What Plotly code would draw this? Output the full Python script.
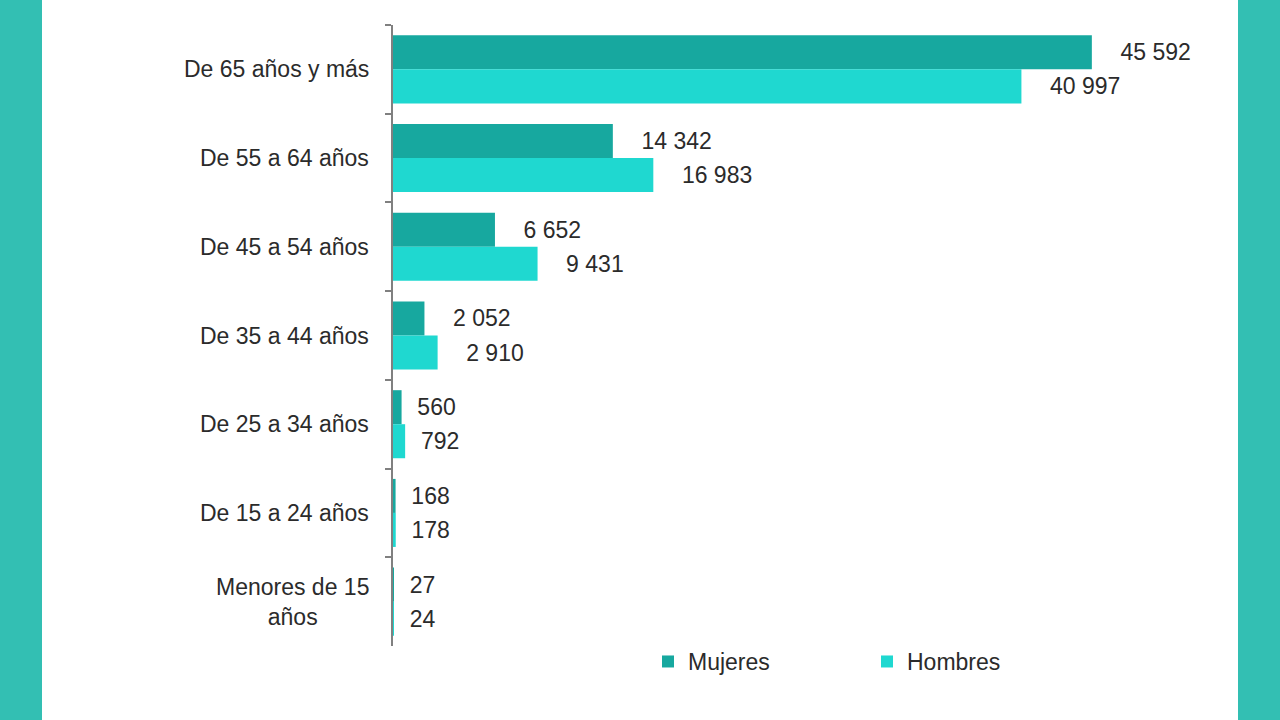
import plotly.graph_objects as go

# --- datos ---
categorias = ["De 65 años y más", "De 55 a 64 años", "De 45 a 54 años",
              "De 35 a 44 años", "De 25 a 34 años", "De 15 a 24 años",
              "Menores de 15<br>años"]
mujeres = [45592, 14342, 6652, 2052, 560, 168, 27]
hombres = [40997, 16983, 9431, 2910, 792, 178, 24]

# --- geometría ---
W, H = 1280, 720
ML, MR, MT, MB = 393, 70, 25, 74
PW, PH = W - ML - MR, H - MT - MB
BORDE = "#33bfb3"
C_MUJ = "#17a89f"
C_HOM = "#1fd8d0"
TXT = "#2b2b2b"
FONT = "Liberation Sans, Arial, sans-serif"
FS = 23


def etiqueta(v):
    # separador de miles con espacio, como en el original
    s = f"{v:,}".replace(",", " ")
    pad = "\u00a0" * (2 if v < 1000 else 4)
    return pad + s


fig = go.Figure()
fig.add_trace(go.Bar(
    y=categorias, x=mujeres, orientation="h", name="Mujeres",
    marker=dict(color=C_MUJ, line=dict(width=0)),
    text=[etiqueta(v) for v in mujeres], textposition="outside",
    textfont=dict(family=FONT, size=FS, color=TXT),
    constraintext="none", cliponaxis=False, hoverinfo="skip",
))
fig.add_trace(go.Bar(
    y=categorias, x=hombres, orientation="h", name="Hombres",
    marker=dict(color=C_HOM, line=dict(width=0)),
    text=[etiqueta(v) for v in hombres], textposition="outside",
    textfont=dict(family=FONT, size=FS, color=TXT),
    constraintext="none", cliponaxis=False, hoverinfo="skip",
))

# etiquetas de categoría (centradas, como en Excel)
for c in categorias:
    fig.add_annotation(x=0, xref="paper", y=c, yref="y", text=c,
                       xanchor="right", xshift=-22, align="center",
                       showarrow=False,
                       font=dict(family=FONT, size=FS, color=TXT))


# marco blanco sobre el fondo turquesa
def px_x(p):
    return (p - ML) / PW


def px_y(p):
    return (H - MB - p) / PH


fig.add_shape(type="rect", xref="paper", yref="paper",
              x0=px_x(42), x1=px_x(1238), y0=px_y(H), y1=px_y(0),
              fillcolor="white", line=dict(width=0), layer="below")

fig.update_layout(
    width=W, height=H,
    margin=dict(l=ML, r=MR, t=MT, b=MB),
    paper_bgcolor=BORDE, plot_bgcolor="rgba(0,0,0,0)",
    barmode="group", bargap=0.233, bargroupgap=0,
    font=dict(family=FONT, size=FS, color=TXT),
    showlegend=True,
    legend=dict(orientation="h", x=px_x(648), xanchor="left",
                y=-0.025, yanchor="middle", entrywidth=174,
                entrywidthmode="pixels", bgcolor="rgba(0,0,0,0)",
                font=dict(family=FONT, size=FS, color=TXT),
                traceorder="normal"),
    xaxis=dict(range=[0, 53300], visible=False, fixedrange=True),
    yaxis=dict(autorange="reversed", showticklabels=False,
               showline=True, linecolor="#808080", linewidth=1.5,
               ticks="outside", ticklen=6, tickcolor="#808080",
               tickwidth=1.5, tickson="boundaries", showgrid=False,
               zeroline=False, fixedrange=True),
)

# quitar el margen del body para que la figura ocupe toda la ventana
fig.write_html("out.html",
               config={"displayModeBar": False},
               post_script="document.body.style.margin='0';")
